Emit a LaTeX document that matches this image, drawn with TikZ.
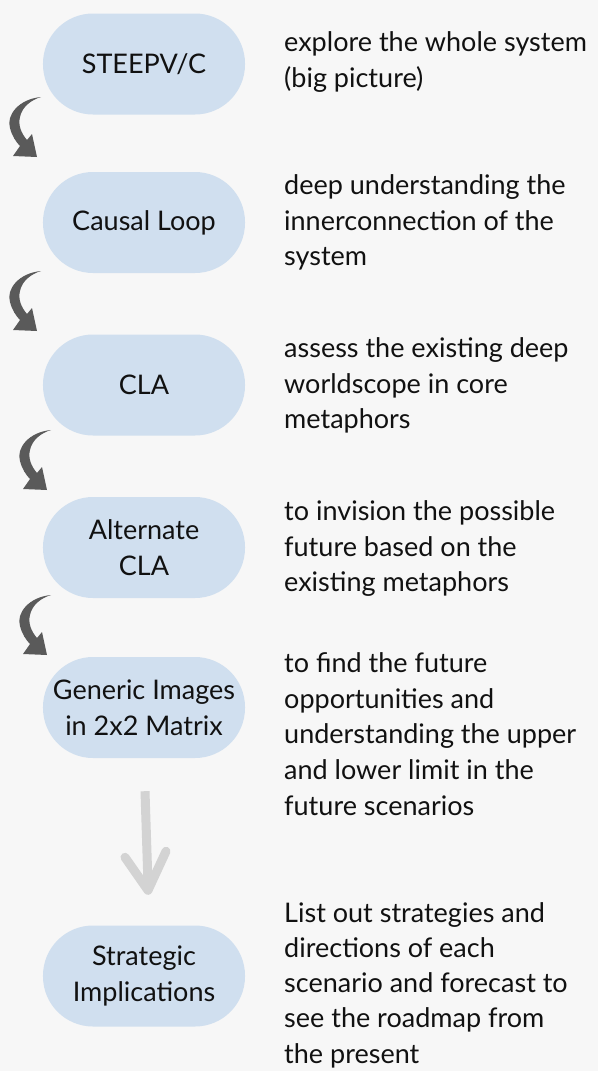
\documentclass[tikz,border=0pt]{standalone}
\usepackage{fontspec}
\setmainfont{Lato}
\definecolor{bgcol}{HTML}{F7F7F7}
\definecolor{pillcol}{HTML}{D0DFEF}
\definecolor{darkarrow}{HTML}{5A5A5A}
\definecolor{lightarrow}{HTML}{D3D3D3}
\definecolor{txtcol}{HTML}{111111}
\tikzset{
  pill/.style={fill=pillcol, draw=none, rounded corners=50bp, minimum width=202bp,
    minimum height=101bp, align=center, inner sep=0pt, text=txtcol,
    font=\fontsize{27bp}{35.8bp}\selectfont},
  desc/.style={anchor=north west, align=left, inner sep=0pt, text=txtcol,
    font=\fontsize{27bp}{35.8bp}\selectfont},
  curlarrow/.pic={
    \fill[darkarrow] (0,0) .. controls (-22,2) and (-35,18) .. (-31,31)
      .. controls (-29,39) and (-25,45) .. (-21,49) -- (-28,59) -- (-4,60) -- (-9,37)
      -- (-14,43) .. controls (-20,36) and (-23,28) .. (-21,20)
      .. controls (-19,10) and (-10,3) .. (0,0) -- cycle;
  },
  straightarrow/.style={draw=lightarrow, line width=9bp, line cap=round, line join=round}
}
\newcommand{\topstrut}{\rule{0pt}{23bp}}
\begin{document}
\begin{tikzpicture}[x=1bp,y=-1bp]
\fill[bgcol] (0,0) rectangle (598,1071);
\useasboundingbox (0,0) rectangle (598,1071);

% pills
\node[pill] (p1) at (144,64) {STEEPV/C};
\node[pill] (p2) at (144,222.5) {Causal Loop};
\node[pill] (p3) at (144,385) {CLA};
\node[pill] (p4) at (144,547.5) {Alternate\\CLA};
\node[pill] (p5) at (144,707.5) {Generic Images\\in 2x2 Matrix};
\node[pill] (p6) at (144,976) {Strategic\\Implications};

% descriptions
\node[desc] (t1) at (284,28) {\topstrut explore the whole system\\(big picture)};
\node[desc] (t2) at (284,171) {\topstrut deep understanding the\\innerconnection of the\\system};
\node[desc] (t3) at (284,334) {\topstrut assess the existing deep\\worldscope in core\\metaphors};
\node[desc] (t4) at (284,497) {\topstrut to invision the possible\\future based on the\\existing metaphors};
\node[desc] (t5) at (284,649) {\topstrut to find the future\\opportunities and\\understanding the upper\\and lower limit in the\\future scenarios};
\node[desc, font=\fontsize{27bp}{35.2bp}\selectfont] (t6) at (284,899) {\topstrut List out strategies and\\directions of each\\scenario and forecast to\\see the roadmap from\\the present};

% curled arrows
\pic at (41,97) {curlarrow};
\pic at (41,271) {curlarrow};
\pic at (51,430) {curlarrow};
\pic at (51,595) {curlarrow};

% straight arrow from p5 to p6
\coordinate (sa) at ([xshift=1bp, yshift=-33bp]p5.south);
\coordinate (sb) at ([xshift=4bp, yshift=41bp]p6.north);
\draw[straightarrow, line cap=butt] (sa) -- (sb);
\draw[straightarrow] ([xshift=-23bp, yshift=27bp]sb) -- ([yshift=-6bp]sb) -- ([xshift=18bp, yshift=33bp]sb);
\end{tikzpicture}
\end{document}
